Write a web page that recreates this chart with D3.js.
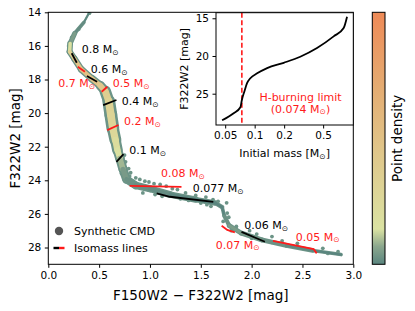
<!DOCTYPE html>
<html lang="en">
<head>
<meta charset="utf-8">
<style>
	body { margin: 0; background: #fff; }
	text { font-family: "DejaVu Sans", sans-serif; }
</style>
</head>
<body>
<svg width="415" height="311"></svg>
<script src="https://d3js.org/d3.v7.min.js"></script>
<script>
	// synthetic CMD ridge (colour, magnitude, spread in mag, point density 0..1)
	var cmdColor   = [0.40, 0.35, 0.26, 0.215, 0.21, 0.255, 0.325, 0.43, 0.51, 0.56, 0.595, 0.615, 0.635, 0.66, 0.68, 0.705, 0.735, 0.77, 0.86, 1.0, 1.2, 1.45, 1.64, 1.71, 1.73, 1.78, 1.9, 2.1, 2.34, 2.6, 2.88];
	var cmdMag     = [14.05, 14.6, 15.25, 15.85, 16.35, 16.75, 17.4, 17.96, 18.35, 18.7, 19.3, 20.1, 20.9, 21.6, 22.2, 22.7, 23.35, 23.95, 24.3, 24.5, 24.85, 25.15, 25.35, 25.6, 26.1, 26.7, 27.15, 27.55, 27.88, 28.18, 28.42];
	var cmdSpread  = [0.10, 0.16, 0.28, 0.33, 0.36, 0.38, 0.40, 0.42, 0.50, 0.62, 0.75, 0.78, 0.75, 0.68, 0.60, 0.55, 0.55, 0.50, 0.45, 0.42, 0.40, 0.35, 0.30, 0.22, 0.22, 0.28, 0.30, 0.30, 0.28, 0.25, 0.18];
	var cmdDensity = [0.0, 0.0, 0.03, 0.07, 0.25, 0.42, 0.5, 0.5, 0.45, 0.4, 0.33, 0.3, 0.28, 0.24, 0.18, 0.12, 0.06, 0.03, 0.02, 0.02, 0.01, 0.0, 0.0, 0.0, 0.0, 0.05, 0.05, 0.03, 0.02, 0.0, 0.0];

	// scattered single stars off the ridge
	var dotColor = [0.80, 0.86, 0.90, 0.95, 0.99, 0.83, 1.04, 1.10, 1.16, 1.22, 1.27, 0.93, 1.05, 1.12, 1.30, 1.38, 1.50, 1.56, 1.60, 1.35, 1.45, 1.55, 1.62, 1.67, 1.754, 1.76, 1.775, 0.76, 0.79, 0.81, 0.72, 0.75, 1.72, 1.85, 1.98, 2.05, 2.20, 2.30, 2.45, 2.50, 2.70, 2.75, 2.85, 2.20, 2.00, 1.80, 0.405, 0.30, 0.20, 0.23];
	var dotMag   = [23.75, 23.85, 23.95, 24.05, 24.10, 24.05, 24.20, 24.25, 24.35, 24.50, 24.55, 24.75, 24.85, 24.95, 25.10, 25.20, 25.35, 25.45, 25.55, 24.75, 24.90, 25.00, 25.15, 25.25, 25.34, 25.95, 26.20, 22.90, 23.30, 23.55, 23.60, 22.50, 26.45, 26.75, 27.00, 27.20, 27.35, 27.60, 27.75, 28.05, 28.05, 28.35, 28.25, 27.70, 27.45, 27.00, 14.05, 15.00, 16.00, 15.50];

	// isomass lines
	var isoLabel = ["0.8", "0.7", "0.6", "0.5", "0.4", "0.2", "0.1", "0.08", "0.077", "0.07", "0.06", "0.05"];
	var isoRed   = [false, true, false, true, false, true, false, true, false, true, false, true];
	var isoX = [[0.23, 0.28], [0.29, 0.36], [0.38, 0.48], [0.525, 0.58], [0.54, 0.67], [0.58, 0.69], [0.67, 0.74], [0.80, 1.31], [1.066, 1.197, 1.623], [1.705, 1.76, 1.835], [1.90, 2.13], [2.21, 2.61, 2.64]];
	var isoY = [[16.44, 17.0], [17.24, 17.54], [17.79, 18.13], [18.73, 18.43], [19.52, 19.22], [21.01, 20.71], [22.9, 22.44], [24.33, 24.39], [24.78, 24.98, 25.28], [26.7, 26.95, 27.1], [27.07, 27.66], [27.6, 28.1, 28.35]];
	var isoTextX = [0.328, 0.098, 0.417, 0.633, 0.722, 0.744, 0.796, 1.108, 1.42, 1.646, 1.927, 2.435];
	var isoTextY = [16.44, 18.47, 17.63, 18.47, 19.52, 20.71, 22.44, 23.83, 24.72, 28.06, 26.92, 27.6];

	// inset: initial mass vs magnitude
	var insetMass = [0.0465, 0.061, 0.0715, 0.074, 0.0785, 0.0836, 0.0903, 0.106, 0.134, 0.198, 0.292, 0.433, 0.64, 0.81, 0.877];
	var insetMag  = [28.53, 27.6, 26.8, 25.84, 24.7, 23.6, 22.95, 22.3, 21.6, 20.9, 20.1, 18.95, 17.4, 16.3, 14.8];
	var hLimit = 0.074;

	var xTicks = [0, 0.5, 1, 1.5, 2, 2.5, 3];
	var yTicks = [14, 16, 18, 20, 22, 24, 26, 28];
	var insetXTicks = [0.05, 0.1, 0.2, 0.5];
	var insetYTicks = [15, 20, 25];

	var svg = d3.select("svg");
	var red = "#ff1a1a";

	var x = d3.scaleLinear().domain([0, 3]).range([48.3, 353.3]);
	var y = d3.scaleLinear().domain([14, 29]).range([12.3, 264.3]);

	var cmap = d3.scaleLinear()
		.domain([0, 0.07, 0.14, 0.45, 0.7, 1])
		.range(["#5a857f", "#8aa68d", "#dae2a2", "#e0c68a", "#e4ac72", "#ee8a57"]);

	var g = svg.append("g");
	var clip = svg.append("clipPath").attr("id", "clipMain").append("rect")
		.attr("x", x(0)).attr("y", y(14)).attr("width", x(3) - x(0)).attr("height", y(29) - y(14));
	var plot = g.append("g").attr("clip-path", "url(#clipMain)");

	var ridge = cmdColor.map(function(c, i) {
		return { c: c, m: cmdMag[i], s: cmdSpread[i], d: cmdDensity[i] };
	});
	var segs = d3.pairs(ridge);
	var pxPerMag = y(15) - y(14);

	// outer band (teal edges)
	plot.selectAll(".band-o").data(segs).enter().append("line")
		.attr("x1", function(p) { return x(p[0].c); })
		.attr("y1", function(p) { return y(p[0].m); })
		.attr("x2", function(p) { return x(p[1].c); })
		.attr("y2", function(p) { return y(p[1].m); })
		.attr("stroke", "#6c9487")
		.attr("stroke-linecap", "round")
		.attr("stroke-width", function(p) { return (p[0].s + p[1].s) / 2 * pxPerMag; });

	plot.selectAll(".dot").data(dotColor).enter().append("circle")
		.attr("cx", function(d) { return x(d); })
		.attr("cy", function(d, i) { return y(dotMag[i]); })
		.attr("r", 1.9)
		.attr("fill", "#6c9487");

	// inner band coloured by density
	plot.selectAll(".band-i").data(segs).enter().append("line")
		.attr("x1", function(p) { return x(p[0].c); })
		.attr("y1", function(p) { return y(p[0].m); })
		.attr("x2", function(p) { return x(p[1].c); })
		.attr("y2", function(p) { return y(p[1].m); })
		.attr("stroke", function(p) { return cmap((p[0].d + p[1].d) / 2); })
		.attr("stroke-linecap", "round")
		.attr("stroke-width", function(p) { return (p[0].s + p[1].s) / 2 * pxPerMag * 0.6; });

	// isomass lines + labels
	var line = d3.line().x(function(d) { return x(d[0]); }).y(function(d) { return y(d[1]); });
	isoLabel.forEach(function(lab, i) {
		var pts = isoX[i].map(function(v, k) { return [v, isoY[i][k]]; });
		plot.append("path").attr("d", line(pts))
			.attr("fill", "none")
			.attr("stroke", isoRed[i] ? red : "#000")
			.attr("stroke-width", 1.8);
		var t = g.append("text")
			.attr("x", x(isoTextX[i])).attr("y", y(isoTextY[i]))
			.attr("font-size", "11px")
			.attr("fill", isoRed[i] ? red : "#000")
			.text(lab + " M");
		t.append("tspan").attr("font-size", "7.5px").attr("dy", "1.5").text("\u2299");
	});

	// axes
	var xAxis = g.append("g").attr("transform", "translate(0," + y(29) + ")")
		.call(d3.axisBottom(x).tickValues(xTicks).tickFormat(d3.format(".1f")).tickSizeOuter(0).tickSize(3.5).tickPadding(3.5));
	var yAxis = g.append("g").attr("transform", "translate(" + x(0) + ",0)")
		.call(d3.axisLeft(y).tickValues(yTicks).tickSizeOuter(0).tickSize(3.5).tickPadding(3.5));
	[xAxis, yAxis].forEach(function(a) {
		a.selectAll("text").attr("font-size", "10.5px").attr("fill", "#000").attr("font-family", "DejaVu Sans");
		a.selectAll("line").attr("stroke", "#000");
		a.select(".domain").remove();
	});
	g.append("rect")
		.attr("x", x(0)).attr("y", y(14)).attr("width", x(3) - x(0)).attr("height", y(29) - y(14))
		.attr("fill", "none").attr("stroke", "#000").attr("stroke-width", 1);

	g.append("text")
		.attr("x", (x(0) + x(3)) / 2).attr("y", 300)
		.attr("text-anchor", "middle").attr("font-size", "13.5px")
		.text("F150W2 \u2212 F322W2 [mag]");
	g.append("text")
		.attr("transform", "translate(20," + (y(14) + y(29)) / 2 + ") rotate(-90)")
		.attr("text-anchor", "middle").attr("font-size", "13.5px")
		.text("F322W2 [mag]");

	// legend
	var leg = g.append("g");
	leg.append("circle").attr("cx", 59).attr("cy", 231).attr("r", 4.2).attr("fill", "#555");
	leg.append("text").attr("x", 74).attr("y", 235).attr("font-size", "11px").text("Synthetic CMD");
	leg.append("line").attr("x1", 53.5).attr("x2", 59).attr("y1", 248).attr("y2", 248).attr("stroke", "#000").attr("stroke-width", 2.4);
	leg.append("line").attr("x1", 59).attr("x2", 64.5).attr("y1", 248).attr("y2", 248).attr("stroke", red).attr("stroke-width", 2.4);
	leg.append("text").attr("x", 74).attr("y", 252).attr("font-size", "11px").text("Isomass lines");

	// inset
	var xi = d3.scaleLog().domain([0.0403, 1.016]).range([216, 353.3]);
	var yi = d3.scaleLinear().domain([14.26, 29.15]).range([12.7, 125]);
	var ins = svg.append("g");
	ins.append("rect").attr("x", 216).attr("y", 12.7).attr("width", 353.3 - 216).attr("height", 125 - 12.7)
		.attr("fill", "#fff");
	ins.append("line")
		.attr("x1", xi(hLimit)).attr("x2", xi(hLimit)).attr("y1", yi.range()[0]).attr("y2", yi.range()[1])
		.attr("stroke", red).attr("stroke-width", 1.6).attr("stroke-dasharray", "5,2.5");
	ins.append("path")
		.attr("d", d3.line().curve(d3.curveMonotoneX)
			.x(function(d) { return xi(d); })
			.y(function(d, i) { return yi(insetMag[i]); })(insetMass))
		.attr("fill", "none").attr("stroke", "#000").attr("stroke-width", 1.8);
	var ixA = ins.append("g").attr("transform", "translate(0,125)")
		.call(d3.axisBottom(xi).tickValues(insetXTicks).tickFormat(d3.format("")).tickSizeOuter(0).tickSize(3.5).tickPadding(3.5));
	var iyA = ins.append("g").attr("transform", "translate(216,0)")
		.call(d3.axisLeft(yi).tickValues(insetYTicks).tickSizeOuter(0).tickSize(3.5).tickPadding(3.5));
	[ixA, iyA].forEach(function(a) {
		a.selectAll("text").attr("font-size", "10.5px").attr("fill", "#000").attr("font-family", "DejaVu Sans");
		a.selectAll("line").attr("stroke", "#000");
		a.select(".domain").remove();
	});
	ins.append("rect").attr("x", 216).attr("y", 12.7).attr("width", 353.3 - 216).attr("height", 125 - 12.7)
		.attr("fill", "none").attr("stroke", "#000").attr("stroke-width", 1);
	var il = ins.append("text").attr("x", 284.6).attr("y", 157).attr("text-anchor", "middle").attr("font-size", "11px")
		.text("Initial mass [M");
	il.append("tspan").attr("font-size", "7.5px").attr("dy", "1.5").text("\u2299");
	il.append("tspan").attr("dy", "-1.5").text("]");
	ins.append("text")
		.attr("transform", "translate(188," + (12.7 + 125) / 2 + ") rotate(-90)")
		.attr("text-anchor", "middle").attr("font-size", "11px")
		.text("F322W2 [mag]");
	ins.append("text").attr("x", 300.5).attr("y", 101).attr("text-anchor", "middle")
		.attr("font-size", "11px").attr("fill", red).text("H-burning limit");
	var hl = ins.append("text").attr("x", 300.5).attr("y", 112.5).attr("text-anchor", "middle")
		.attr("font-size", "11px").attr("fill", red).text("(" + hLimit + " M");
	hl.append("tspan").attr("font-size", "7.5px").attr("dy", "1.5").text("\u2299");
	hl.append("tspan").attr("dy", "-1.5").text(")");

	// colorbar
	var defs = svg.append("defs");
	var grad = defs.append("linearGradient").attr("id", "cbar")
		.attr("x1", 0).attr("y1", 1).attr("x2", 0).attr("y2", 0);
	cmap.domain().forEach(function(v, i) {
		grad.append("stop").attr("offset", v).attr("stop-color", cmap.range()[i]);
	});
	svg.append("rect").attr("x", 372.3).attr("y", y(14)).attr("width", 12.7).attr("height", y(29) - y(14))
		.attr("fill", "url(#cbar)").attr("stroke", "#000").attr("stroke-width", 1);
	svg.append("text")
		.attr("transform", "translate(402," + (y(14) + y(29)) / 2 + ") rotate(-90)")
		.attr("text-anchor", "middle").attr("font-size", "13.5px")
		.text("Point density");
</script>
</body>
</html>
